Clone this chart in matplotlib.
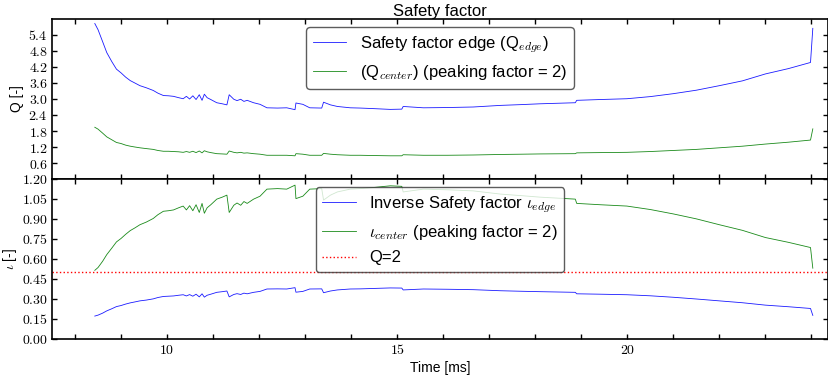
import matplotlib
matplotlib.use('Agg')
import matplotlib.pyplot as plt
from matplotlib.ticker import MultipleLocator, FuncFormatter, FixedLocator

# ---------------- data ----------------
time_ms = [8.43, 8.50, 8.60, 8.69, 8.80, 8.90, 9.00, 9.10, 9.20, 9.30,
           9.41, 9.55, 9.70, 9.80, 9.92, 10.03, 10.14, 10.25, 10.35, 10.42,
           10.49, 10.56, 10.63, 10.70, 10.76, 10.81, 10.87, 10.95, 11.08, 11.20,
           11.30, 11.35, 11.45, 11.52, 11.60, 11.67, 11.74, 11.88, 12.02, 12.17,
           12.40, 12.60, 12.78, 12.80, 12.95, 13.10, 13.36, 13.40, 13.55, 13.70,
           13.98, 14.20, 14.48, 14.85, 15.10, 15.13, 15.57, 16.10, 16.65, 17.24,
           17.70, 18.10, 18.87, 18.90, 19.41, 19.99, 20.50, 21.00, 21.50, 22.00,
           22.50, 23.00, 23.50, 23.98, 24.03]

q_edge = [5.83, 5.60, 5.15, 4.74, 4.40, 4.12, 3.98, 3.82, 3.69, 3.60,
          3.50, 3.42, 3.32, 3.22, 3.13, 3.12, 3.10, 3.05, 3.01, 3.10,
          3.00, 3.12, 2.98, 3.16, 2.95, 3.18, 3.05, 2.98, 2.86, 2.82,
          2.78, 3.16, 2.99, 2.94, 2.99, 2.91, 2.95, 2.86, 2.80, 2.67,
          2.66, 2.67, 2.60, 2.85, 2.80, 2.67, 2.66, 2.88, 2.78, 2.72,
          2.67, 2.66, 2.64, 2.61, 2.62, 2.72, 2.67, 2.68, 2.70, 2.76,
          2.79, 2.82, 2.86, 2.95, 2.98, 3.01, 3.09, 3.20, 3.33, 3.50,
          3.68, 3.94, 4.14, 4.37, 5.65]

q_center = [1.94, 1.87, 1.72, 1.58, 1.47, 1.37, 1.33, 1.27, 1.23, 1.20,
            1.17, 1.14, 1.11, 1.07, 1.04, 1.04, 1.03, 1.02, 1.00, 1.03,
            1.00, 1.04, 0.99, 1.05, 0.98, 1.06, 1.02, 0.99, 0.95, 0.94,
            0.93, 1.05, 1.00, 0.98, 1.00, 0.97, 0.98, 0.95, 0.93, 0.89,
            0.89, 0.89, 0.87, 0.95, 0.93, 0.89, 0.89, 0.96, 0.93, 0.91,
            0.89, 0.89, 0.88, 0.87, 0.87, 0.91, 0.89, 0.89, 0.90, 0.92,
            0.93, 0.94, 0.95, 0.98, 0.99, 1.00, 1.03, 1.07, 1.11, 1.17,
            1.23, 1.31, 1.38, 1.46, 1.88]

iota_edge = [0.172, 0.179, 0.194, 0.211, 0.227, 0.243, 0.251, 0.262, 0.271, 0.278,
             0.286, 0.292, 0.301, 0.311, 0.319, 0.321, 0.323, 0.328, 0.332, 0.323,
             0.333, 0.321, 0.336, 0.316, 0.339, 0.314, 0.328, 0.336, 0.350, 0.355,
             0.360, 0.316, 0.334, 0.340, 0.334, 0.344, 0.339, 0.350, 0.357, 0.375,
             0.376, 0.375, 0.385, 0.351, 0.357, 0.375, 0.376, 0.347, 0.360, 0.368,
             0.375, 0.376, 0.379, 0.383, 0.382, 0.368, 0.375, 0.373, 0.370, 0.362,
             0.358, 0.355, 0.350, 0.339, 0.336, 0.332, 0.324, 0.313, 0.300, 0.286,
             0.272, 0.254, 0.242, 0.229, 0.177]

iota_center = [0.515, 0.536, 0.583, 0.633, 0.682, 0.728, 0.754, 0.785, 0.813, 0.833,
               0.857, 0.877, 0.904, 0.932, 0.958, 0.962, 0.968, 0.984, 0.997, 0.968,
               1.000, 0.962, 1.007, 0.949, 1.017, 0.943, 0.984, 1.007, 1.049, 1.064,
               1.079, 0.949, 1.003, 1.020, 1.003, 1.031, 1.017, 1.049, 1.071, 1.124,
               1.128, 1.124, 1.154, 1.053, 1.071, 1.124, 1.128, 1.042, 1.079, 1.103,
               1.124, 1.128, 1.136, 1.149, 1.145, 1.103, 1.124, 1.119, 1.111, 1.087,
               1.075, 1.064, 1.049, 1.017, 1.007, 0.997, 0.971, 0.938, 0.901, 0.857,
               0.815, 0.761, 0.725, 0.686, 0.531]

q_limit_iota = 0.5

q_ticks = [0.6, 1.2, 1.8, 2.4, 3.0, 3.6, 4.2, 4.8, 5.4]
iota_ticks = [0.00, 0.15, 0.30, 0.45, 0.60, 0.75, 0.90, 1.05, 1.20]

# ---------------- style ----------------
plt.rcParams['font.family'] = ['Liberation Sans', 'DejaVu Sans']
plt.rcParams['mathtext.fontset'] = 'cm'

W, H = 829, 377
fig = plt.figure(figsize=(W / 100, H / 100), dpi=100)
left, right = 52, 828
top, mid, bot = 19, 179, 339
ax1 = fig.add_axes([left / W, 1 - mid / H, (right - left) / W, (mid - top) / H])
ax2 = fig.add_axes([left / W, 1 - bot / H, (right - left) / W, (bot - mid) / H])

lw = 0.6
blue = '#1a1aff'
green = '#1a8a1a'
ax1.plot(time_ms, q_edge, color=blue, lw=lw, label='Safety factor edge (Q$_{edge}$)')
ax1.plot(time_ms, q_center, color=green, lw=lw, label='(Q$_{center}$) (peaking factor = 2)')
ax2.plot(time_ms, iota_edge, color=blue, lw=lw, label=r'Inverse Safety factor $\iota_{edge}$')
ax2.plot(time_ms, iota_center, color=green, lw=lw, label=r'$\iota_{center}$ (peaking factor = 2)')
ax2.axhline(q_limit_iota, color='red', ls=':', lw=1.0, label='Q=2')

for ax in (ax1, ax2):
    ax.set_xlim(7.5, 24.36)
    ax.xaxis.set_major_locator(MultipleLocator(1))
    ax.tick_params(direction='in', length=3.5, width=1, top=True, right=True,
                   labelsize=10, pad=3)
    for s in ax.spines.values():
        s.set_linewidth(1.2)

ax1.set_ylim(0, 6)
ax1.yaxis.set_major_locator(FixedLocator(q_ticks))
ax1.yaxis.set_major_formatter(FuncFormatter(lambda v, p: r'$%.1f$' % v))
ax1.xaxis.set_major_formatter(FuncFormatter(lambda v, p: ''))

ax2.set_ylim(0, 1.2)
ax2.yaxis.set_major_locator(FixedLocator(iota_ticks))
ax2.yaxis.set_major_formatter(FuncFormatter(lambda v, p: r'$%.2f$' % v))
ax2.xaxis.set_major_formatter(FuncFormatter(
    lambda v, p: (r'$%d$' % round(v)) if abs(v / 5 - round(v / 5)) < 1e-6 else ''))

ax1.set_title('Safety factor', fontsize=12, pad=2)
ax1.set_ylabel('Q [-]', fontsize=10, labelpad=3)
ax2.set_ylabel(r'$\iota$ [-]', fontsize=10, labelpad=2)
ax2.set_xlabel('Time [ms]', fontsize=10, labelpad=3)

for ax in (ax1, ax2):
    leg = ax.legend(loc='upper center', fontsize=12, fancybox=True, framealpha=0.8,
                    edgecolor='0.2', borderaxespad=0.5)
    leg.get_frame().set_linewidth(1.0)

fig.savefig('out.png', dpi=100)
